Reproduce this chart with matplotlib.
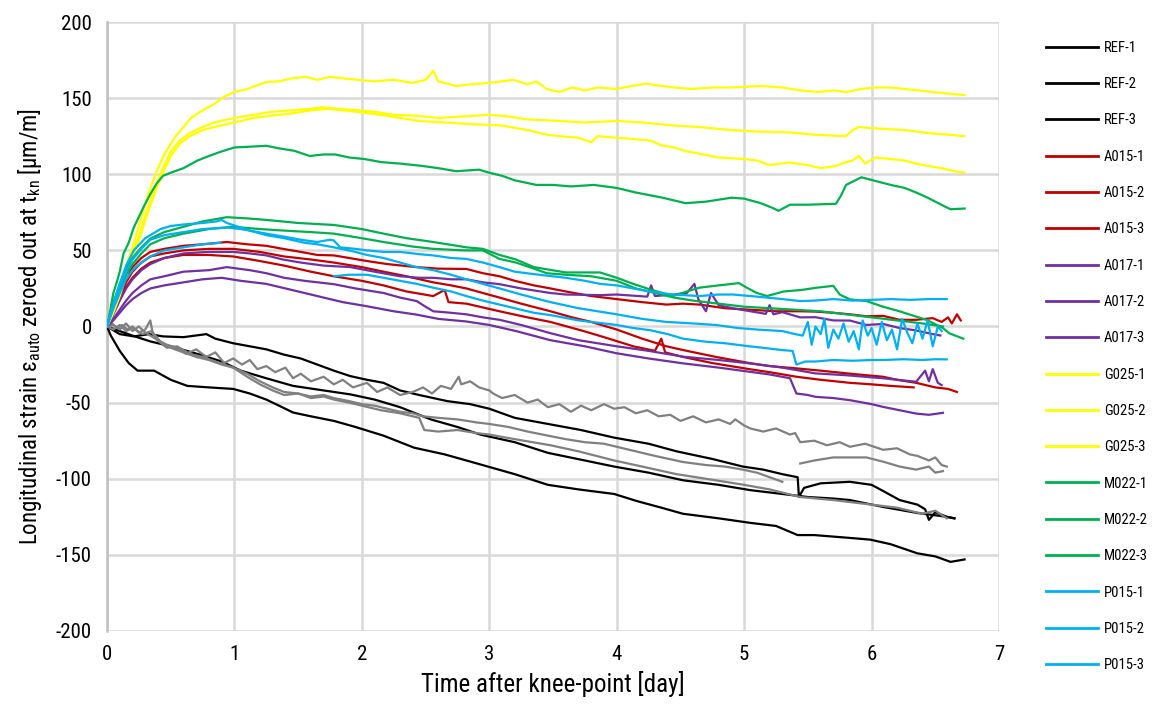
import matplotlib
matplotlib.use("Agg")
import matplotlib.pyplot as plt
from matplotlib.lines import Line2D
from matplotlib import font_manager

nan = float('nan')

# ---------------- data (time [day], strain [µm/m]) ----------------
REF_1 = [(0,0),(0.1,-5),(0.21,-6.5),(0.33,-5),(0.44,-6.5),(0.6,-7),(0.78,-5),(0.85,-8),(0.99,-11),(1.12,-13),
         (1.25,-15),(1.39,-18.5),(1.52,-21),(1.65,-25),(1.78,-29),(1.91,-32.6),(2.04,-35),(2.17,-37),(2.3,-42),
         (2.45,-45),(2.67,-49),(2.85,-51),(3.0,-54),(3.2,-60),(3.46,-64),(3.72,-68),(3.98,-73),(4.25,-77),
         (4.47,-82),(4.75,-87),(4.99,-92),(5.15,-94),(5.3,-97),(5.42,-99),(5.43,-112),(5.45,-109),(5.47,-106),
         (5.6,-103),(5.83,-102),(6.0,-104),(6.09,-108),(6.22,-114),(6.36,-117),(6.42,-120),(6.45,-127),
         (6.5,-122),(6.59,-125),(6.65,-126)]
REF_2 = [(0,0),(0.1,-3),(0.2,-6),(0.34,-9.8),(0.5,-13),(0.73,-18.5),(0.9,-23),(1.05,-29),(1.25,-34),(1.46,-39),
         (1.7,-42),(1.91,-44.6),(2.1,-48),(2.3,-53),(2.54,-61),(2.75,-66),(2.93,-71),(3.2,-76),(3.46,-83),
         (3.75,-88),(3.98,-92),(4.25,-96),(4.52,-101),(4.8,-104),(5.05,-107.5),(5.3,-110),(5.5,-112),(5.7,-113),
         (5.83,-114),(6.09,-118.5),(6.36,-122.5),(6.5,-124),(6.59,-125),(6.65,-126)]
REF_3 = [(0,0),(0.03,-6),(0.1,-16),(0.17,-24),(0.24,-29),(0.3,-29),(0.37,-29),(0.5,-35),(0.63,-39),(0.8,-40),
         (0.99,-41),(1.12,-44),(1.25,-48),(1.35,-52),(1.46,-56.5),(1.6,-59),(1.78,-62),(1.95,-66),(2.17,-71.7),
         (2.41,-79.6),(2.65,-84),(2.93,-90.6),(3.2,-97),(3.46,-104),(3.7,-107),(3.98,-110),(4.16,-114.7),
         (4.35,-119),(4.52,-123),(4.8,-126),(5.05,-129),(5.25,-131),(5.42,-137),(5.55,-137),(5.7,-138),
         (5.85,-139),(5.99,-140),(6.15,-143),(6.36,-149),(6.5,-151),(6.62,-154.6),(6.73,-153)]

GREY_1 = [(0,0),(0.04,2),(0.08,-1),(0.12,1),(0.16,-2),(0.2,0),(0.25,-4),(0.3,-2),(0.34,4),(0.36,-5),
          (0.42,-10),(0.47,-12),(0.55,-14),(0.62,-18),(0.7,-15),(0.78,-20),(0.85,-17),(0.92,-24),(0.99,-21),
          (1.06,-25),(1.12,-22),(1.18,-28),(1.25,-26),(1.32,-30),(1.4,-27),(1.46,-34),(1.52,-31),(1.6,-36),
          (1.7,-33),(1.78,-38),(1.85,-35),(1.93,-40),(2.04,-37),(2.12,-43),(2.2,-40),(2.3,-45),(2.4,-43),
          (2.48,-40),(2.55,-44),(2.62,-39),(2.7,-41),(2.76,-33),(2.78,-38),(2.85,-36),(2.92,-40),(3.0,-42),
          (3.03,-44),(3.1,-47),(3.2,-45),(3.3,-50),(3.38,-48),(3.46,-53),(3.55,-51),(3.64,-56),(3.72,-52),
          (3.8,-55),(3.9,-51),(3.98,-54),(4.06,-53),(4.15,-57),(4.24,-55),(4.33,-59),(4.42,-58),(4.5,-62),
          (4.6,-59),(4.7,-63),(4.8,-61),(4.89,-64),(4.93,-61),(5.0,-65),(5.05,-67),(5.15,-69),(5.25,-67),
          (5.36,-71),(5.4,-70),(5.44,-76),(5.55,-75),(5.65,-78),(5.75,-76),(5.83,-79),(5.95,-77),(6.09,-81),
          (6.2,-80),(6.3,-84),(6.36,-85),(6.45,-88),(6.5,-86),(6.55,-91),(6.59,-92)]
GREY_2 = [(0,0),(0.05,-2),(0.1,1),(0.15,-3),(0.2,-1),(0.28,-5),(0.35,-3),(0.42,-10),(0.5,-14),(0.6,-17),
          (0.7,-20),(0.8,-22),(0.9,-25),(0.99,-27),(1.1,-31),(1.2,-36),(1.3,-40),(1.39,-43),(1.5,-44),
          (1.6,-46),(1.7,-45),(1.78,-47),(1.9,-49),(2.0,-51),(2.1,-52),(2.2,-54),(2.3,-56),(2.4,-57),
          (2.48,-59),(2.6,-60),(2.75,-61),(2.9,-63),(3.0,-64),(3.15,-66),(3.3,-69),(3.48,-72),(3.6,-74),
          (3.75,-76),(3.9,-77),(4.0,-79),(4.15,-82),(4.3,-85),(4.52,-89),(4.7,-91),(4.85,-92),(4.99,-94),
          (5.1,-96),(5.2,-99),(5.3,-102),(5.35,nan),(5.44,-90),(5.55,-88),(5.7,-86),(5.85,-86),(5.96,-86),
          (6.1,-89),(6.22,-92),(6.35,-94),(6.45,-92),(6.5,-96),(6.56,-95)]
GREY_3 = [(0,0),(0.05,1),(0.1,-2),(0.15,2),(0.2,-3),(0.25,0),(0.3,-4),(0.38,-8),(0.47,-14),(0.55,-13),
          (0.65,-18),(0.75,-20),(0.85,-23),(0.99,-27),(1.1,-33),(1.2,-38),(1.3,-42),(1.39,-45),(1.5,-44),
          (1.6,-47),(1.7,-46),(1.78,-48),(1.9,-50),(2.0,-52),(2.15,-55),(2.3,-57),(2.45,-60),(2.49,-68),
          (2.6,-69),(2.75,-68),(2.9,-70),(3.0,-71),(3.2,-74),(3.48,-78),(3.7,-82),(3.98,-88),(4.2,-92),
          (4.47,-97),(4.7,-100),(5.0,-104),(5.2,-107),(5.44,-112),(5.7,-114),(6.0,-117),(6.2,-119),
          (6.4,-123),(6.5,-121),(6.59,-126)]

A015_1 = [(0,0),(0.05,12),(0.1,24),(0.15,33),(0.2,39),(0.27,45),(0.34,49),(0.45,51),(0.6,53),(0.75,54),
          (0.94,55.5),(1.1,54),(1.25,53),(1.38,51),(1.52,49),(1.65,47),(1.78,46.7),(1.9,45),(2.04,43),
          (2.2,41),(2.43,39),(2.6,38),(2.82,37.8),(2.95,35),(3.08,33),(3.2,30),(3.35,27),(3.48,25),(3.6,23),
          (3.8,20),(4.0,18),(4.2,16),(4.39,14.4),(4.52,15),(4.65,14.4),(4.85,12),(5.05,11),(5.25,10),
          (5.44,10),(5.56,9.8),(5.7,9),(5.83,8),(5.96,6.7),(6.09,7),(6.22,4.4),(6.35,4.4),(6.48,5.5),
          (6.55,3),(6.6,6),(6.63,2),(6.67,8),(6.7,4)]
A015_2 = [(0,0),(0.05,10),(0.1,20),(0.15,29),(0.2,36),(0.27,42),(0.34,46),(0.45,48),(0.6,50),(0.8,51),
          (0.99,51),(1.2,49),(1.39,46),(1.6,44),(1.78,42),(2.0,39),(2.17,36),(2.35,33),(2.56,29),(2.7,27),
          (2.82,25),(2.95,22),(3.08,19),(3.25,15),(3.48,10),(3.65,6),(3.8,3),(4.0,-2),(4.2,-8),(4.39,-13),
          (4.55,-16),(4.78,-20),(5.04,-24),(5.2,-26),(5.41,-27.5),(5.6,-29),(5.83,-31),(6.09,-33),(6.2,-35),
          (6.35,-37),(6.5,-40),(6.6,-41),(6.67,-43)]
A015_3 = [(0,0),(0.05,9),(0.1,18),(0.15,26),(0.2,32),(0.27,38),(0.34,42),(0.45,45),(0.6,47),(0.8,47),
          (0.99,46),(1.2,43),(1.39,40),(1.6,36),(1.78,33),(2.0,30),(2.17,27),(2.35,23),(2.56,20),(2.65,24),
          (2.68,16),(2.82,15),(3.08,10),(3.3,6),(3.48,3),(3.74,-3),(3.9,-7),(4.13,-13),(4.3,-16),(4.35,-8),
          (4.38,-17),(4.52,-20),(4.75,-24),(5.04,-28),(5.2,-30),(5.41,-33),(5.6,-35),(5.83,-37),(6.0,-38),
          (6.15,-39),(6.33,-40)]

A017_1 = [(0,0),(0.05,8),(0.1,17),(0.15,25),(0.2,31),(0.27,37),(0.34,41),(0.45,45),(0.6,48),(0.8,49),
          (0.99,49),(1.12,48),(1.25,46.7),(1.38,44),(1.52,42),(1.7,40),(1.91,39),(2.1,36),(2.3,33),(2.45,32),
          (2.56,32),(2.7,31),(2.82,31),(2.95,29),(3.08,27.8),(3.25,25),(3.48,22),(3.6,21),(3.87,20.6),
          (4.0,21),(4.24,19.6),(4.27,27),(4.3,20),(4.45,21),(4.55,22),(4.61,28),(4.64,18),(4.7,10),
          (4.74,22),(4.8,14),(4.91,12),(5.05,10),(5.17,8.3),(5.2,14),(5.23,8),(5.3,9.4),(5.44,6),(5.56,6.1),
          (5.7,4),(5.83,3.9),(5.96,1),(6.09,1.7),(6.22,-1),(6.35,-2.6),(6.48,-5),(6.54,-5.9)]
A017_2 = [(0,0),(0.05,5),(0.1,11),(0.15,17),(0.2,22),(0.27,27),(0.34,31),(0.45,33),(0.6,36),(0.8,37),
          (0.94,39),(1.12,37),(1.25,35),(1.39,32),(1.55,30),(1.78,27.8),(1.95,25),(2.17,22),(2.3,19),
          (2.43,16.7),(2.5,13),(2.56,10),(2.7,9),(2.82,8),(2.95,6),(3.08,4.4),(3.25,1),(3.48,-4.4),(3.7,-9),
          (4.0,-13),(4.25,-16),(4.52,-19.8),(4.8,-22),(5.04,-24.2),(5.3,-27),(5.56,-30.8),(5.8,-32),
          (6.09,-34),(6.35,-36.3),(6.42,-29),(6.45,-36),(6.48,-28),(6.52,-37),(6.55,-38.5)]
A017_3 = [(0,0),(0.05,4),(0.1,9),(0.15,14),(0.2,18),(0.27,22),(0.34,25),(0.45,27),(0.6,29),(0.75,31),
          (0.9,32),(1.05,30),(1.25,28),(1.45,24),(1.65,20),(1.85,16),(2.04,13.3),(2.25,10),(2.43,7.8),
          (2.6,5),(2.82,3.3),(3.0,1),(3.21,-3),(3.48,-9),(3.75,-13),(4.0,-17.6),(4.25,-21),(4.52,-24.2),
          (4.8,-27),(5.04,-29.7),(5.2,-31.5),(5.36,-34),(5.41,-44),(5.5,-45),(5.56,-46.2),(5.7,-47),
          (5.83,-48.4),(6.0,-51),(6.09,-52.8),(6.22,-55),(6.35,-57.2),(6.45,-58),(6.56,-56.7)]

G025_1 = [(0,0),(0.05,12),(0.1,25),(0.15,40),(0.2,52),(0.26,69),(0.32,86),(0.39,102),(0.45,113),(0.53,124),
          (0.6,131),(0.66,137),(0.75,142),(0.84,146),(0.92,151),(1.0,154),(1.1,156),(1.25,160.6),(1.35,161),
          (1.45,163),(1.56,164),(1.65,162),(1.75,164),(1.85,163),(1.97,162),(2.1,161),(2.25,162),(2.4,160),
          (2.5,162),(2.56,168),(2.6,161),(2.74,158),(2.85,159),(3.0,160),(3.19,162),(3.3,159),(3.37,161),
          (3.45,156),(3.55,154),(3.65,157),(3.75,155),(3.85,157),(4.0,156),(4.12,158),(4.23,159.5),
          (4.35,158),(4.45,157),(4.59,156),(4.75,157),(4.9,157),(5.13,158),(5.3,157),(5.45,155),(5.58,154),
          (5.7,155),(5.8,154),(5.92,156),(6.03,157),(6.15,157),(6.26,156),(6.38,155),(6.48,154),(6.6,153),
          (6.73,152)]
G025_2 = [(0,0),(0.05,10),(0.1,22),(0.15,35),(0.2,48),(0.26,62),(0.32,78),(0.39,94),(0.45,106),(0.5,115),
          (0.57,122),(0.65,127),(0.75,131),(0.84,134),(1.0,137),(1.15,139),(1.29,141),(1.45,142),(1.6,143),
          (1.69,144),(1.8,143),(1.97,142),(2.1,141),(2.25,139),(2.42,138.5),(2.6,137),(2.8,138),(3.0,139),
          (3.15,138),(3.3,136),(3.55,135),(3.75,134),(4.0,135),(4.2,134),(4.45,132),(4.65,131),(4.9,129),
          (5.1,128),(5.35,127.5),(5.55,126),(5.8,125),(5.85,129),(5.9,131),(6.05,130),(6.26,129),(6.45,127),
          (6.6,126),(6.73,125)]
G025_3 = [(0,0),(0.05,9),(0.1,20),(0.15,33),(0.2,45),(0.26,59),(0.32,75),(0.39,91),(0.45,103),(0.5,112),
          (0.57,120),(0.65,125),(0.75,129),(0.84,131),(1.0,134),(1.15,137),(1.29,138.5),(1.45,140),(1.6,142),
          (1.74,143),(1.85,142),(1.97,141),(2.15,139),(2.3,137),(2.45,135),(2.65,134),(2.85,133),(3.1,132),
          (3.3,129),(3.45,126),(3.55,125),(3.7,124),(3.8,121),(3.85,125),(4.0,124),(4.15,123),(4.27,122),
          (4.35,119),(4.45,117.6),(4.55,115),(4.68,113),(4.8,111),(5.0,110),(5.1,109),(5.2,106),(5.35,107.7),
          (5.5,106),(5.6,104),(5.72,105.5),(5.8,108),(5.85,109),(5.9,112),(5.95,107),(6.03,111),(6.15,110),
          (6.26,109),(6.35,107),(6.44,105.5),(6.55,104),(6.65,102),(6.73,101)]

M022_1 = [(0,0),(0.02,8),(0.05,22),(0.08,30),(0.1,36),(0.13,48),(0.17,55),(0.21,65),(0.25,72),(0.29,79),
          (0.34,87),(0.39,94),(0.44,99),(0.5,101),(0.6,104),(0.71,109),(0.8,112),(0.9,115),(1.0,117.6),
          (1.1,118),(1.25,118.7),(1.35,117),(1.47,115.4),(1.59,112),(1.7,113),(1.79,113),(1.9,111),(2.02,110),
          (2.15,108),(2.3,107),(2.47,105.5),(2.6,104),(2.74,102),(2.92,103),(3.0,101),(3.1,99),(3.2,96),
          (3.37,93),(3.5,93),(3.64,92),(3.82,93),(4.0,91),(4.15,88),(4.36,84.6),(4.54,81),(4.7,82),(4.9,84.6),
          (5.0,84),(5.13,81),(5.22,78),(5.27,76),(5.36,80),(5.5,80),(5.72,80.6),(5.76,86),(5.8,93),(5.92,98),
          (6.03,95.6),(6.15,93),(6.26,91),(6.35,88),(6.44,84.6),(6.57,79),(6.62,77),(6.73,77.5)]
M022_2 = [(0,0),(0.03,10),(0.06,18),(0.1,28),(0.15,38),(0.2,45),(0.27,52),(0.34,57.8),(0.45,62),(0.6,65.5),
          (0.75,69),(0.94,71.8),(1.1,71),(1.25,70),(1.5,68),(1.78,66.7),(2.0,64),(2.17,61),(2.35,58),
          (2.56,55.5),(2.82,52),(2.95,51),(3.08,47),(3.21,44),(3.35,39),(3.6,35.5),(3.87,35.5),(4.0,32),
          (4.13,28),(4.26,24.4),(4.44,20),(4.55,23),(4.65,25.5),(4.8,27),(4.96,28.5),(5.02,25.5),(5.1,22),
          (5.18,20),(5.31,23),(5.45,24),(5.57,25.5),(5.7,26.7),(5.75,21),(5.83,17.8),(5.96,16.7),(6.09,13),
          (6.22,10),(6.35,6.5),(6.43,4.4),(6.56,-1),(6.61,-4.5),(6.72,-8)]
M022_3 = [(0,0),(0.03,8),(0.06,15),(0.1,24),(0.15,34),(0.2,41),(0.27,48),(0.34,54),(0.45,58),(0.6,61),
          (0.8,64),(0.99,65.5),(1.2,64),(1.39,63),(1.6,62),(1.78,61),(2.0,58),(2.17,55.5),(2.4,52.5),
          (2.56,51),(2.8,50),(2.95,50),(3.08,44.4),(3.21,42),(3.35,38),(3.45,35),(3.6,34),(3.8,33),(4.0,30),
          (4.15,25),(4.3,22),(4.45,19),(4.6,17),(4.8,15),(5.0,13),(5.2,12),(5.4,11),(5.6,10),(5.8,8),(6.0,6),
          (6.2,4),(6.4,2),(6.56,0)]

P015_1 = [(0,0),(0.05,15),(0.1,28),(0.15,40),(0.21,50),(0.3,58),(0.42,64),(0.5,66),(0.6,67),(0.75,68),
          (0.86,69),(0.9,70),(0.94,68),(1.05,65),(1.12,63),(1.25,61),(1.39,59),(1.52,57),(1.65,55.5),
          (1.75,57),(1.78,56.5),(1.83,52),(1.95,51),(2.04,50),(2.17,49),(2.3,49),(2.45,47.5),(2.56,46.7),
          (2.7,45),(2.82,44.4),(2.95,42),(3.08,39),(3.2,36),(3.35,34.4),(3.6,32),(3.75,30),(3.87,28),(4.0,27),
          (4.13,25),(4.26,23),(4.44,21),(4.65,20),(4.8,21),(4.91,21),(5.05,20),(5.18,19),(5.3,18),(5.44,16.7),
          (5.55,17),(5.7,18),(5.85,17),(6.0,17.5),(6.15,18),(6.3,17.5),(6.45,18),(6.59,18)]
P015_2 = [(0,0),(0.05,14),(0.1,26),(0.15,36),(0.2,44),(0.27,51),(0.34,57),(0.45,60),(0.6,62),(0.75,64),
          (0.94,65),(1.05,64),(1.12,63),(1.25,60),(1.39,58),(1.55,55),(1.65,54),(1.78,52),(1.9,50),(2.04,47),
          (2.17,45),(2.3,42),(2.43,39),(2.56,37),(2.7,34),(2.82,31),(2.95,28),(3.08,25),(3.25,21),(3.48,16),
          (3.7,12),(4.0,8),(4.2,5),(4.39,3),(4.6,2),(4.78,1),(4.95,-1),(5.1,-2),(5.3,-3),(5.4,-5),(5.46,-6),
          (5.5,3),(5.53,-12),(5.56,0),(5.6,-5),(5.63,5),(5.66,-14),(5.7,-2),(5.74,-8),(5.78,2),(5.82,-10),
          (5.86,-3),(5.9,-15),(5.93,4),(5.97,-6),(6.0,-1),(6.04,-12),(6.08,3),(6.12,-9),(6.16,-2),(6.2,-15),
          (6.24,5),(6.28,-4),(6.32,-11),(6.36,2),(6.4,-8),(6.44,4),(6.48,-13),(6.52,0),(6.55,-3)]
P015_3 = [(0,0),(0.05,12),(0.1,22),(0.15,31),(0.2,37),(0.27,42),(0.34,46),(0.45,50),(0.6,52),(0.75,54),
          (0.89,55),(0.9,nan),(1.78,33),(1.9,34),(2.04,34),(2.17,32),(2.3,30),(2.43,28),(2.56,25.5),(2.7,23),
          (2.82,20),(2.95,17),(3.08,14.4),(3.2,12),(3.35,9),(3.48,7.5),(3.7,4),(4.0,1),(4.13,-1),(4.26,-2.4),
          (4.4,-5),(4.52,-8),(4.7,-10),(4.85,-11),(5.04,-13),(5.15,-14),(5.3,-15.5),(5.38,-16),(5.41,-25),
          (5.48,-23),(5.56,-23),(5.7,-22),(5.85,-22.5),(6.0,-22),(6.09,-22),(6.25,-21.5),(6.4,-22),(6.5,-21.5),
          (6.59,-21.6)]

LABELS = ["REF-1", "REF-2", "REF-3", "A015-1", "A015-2", "A015-3", "A017-1", "A017-2", "A017-3",
          "G025-1", "G025-2", "G025-3", "M022-1", "M022-2", "M022-3", "P015-1", "P015-2", "P015-3"]
SERIES = [REF_1, REF_2, REF_3, A015_1, A015_2, A015_3, A017_1, A017_2, A017_3,
          G025_1, G025_2, G025_3, M022_1, M022_2, M022_3, P015_1, P015_2, P015_3]
GREYS = [GREY_1, GREY_2, GREY_3]
X_TICKS = [0, 1, 2, 3, 4, 5, 6, 7]
Y_TICKS = [-200, -150, -100, -50, 0, 50, 100, 150, 200]

# ---------------- styling ----------------
GROUP_COLORS = {"REF": "#000000", "A015": "#c00000", "A017": "#7030a0", "G025": "#ffff00",
                "M022": "#00b050", "P015": "#00b0f0"}
GREY_COLOR = "#808080"

installed = {f.name for f in font_manager.fontManager.ttflist}
narrow = [n for n in ["Liberation Sans Narrow", "DejaVu Sans Condensed", "Roboto Condensed",
                      "Open Sans Condensed", "Roboto"] if n in installed]
FONT = narrow[:1] + ["DejaVu Sans"]
plt.rcParams["font.family"] = FONT
if not narrow:
    plt.rcParams["font.stretch"] = "condensed"
plt.rcParams["axes.unicode_minus"] = False
plt.rcParams["mathtext.fontset"] = "custom"
plt.rcParams["mathtext.rm"] = FONT[0]
plt.rcParams["mathtext.it"] = FONT[0]

fig = plt.figure(figsize=(11.58, 7.13), dpi=100)
ax = fig.add_axes([107 / 1158, 1 - 631 / 713, (999 - 107) / 1158, (631 - 22) / 713])

LW = 1.6
for data in SERIES[:3]:
    t, v = zip(*data)
    ax.plot(t, v, color=GROUP_COLORS["REF"], lw=LW, zorder=3)
for data in GREYS:
    t, v = zip(*data)
    ax.plot(t, v, color=GREY_COLOR, lw=LW, zorder=3)
for lab, data in zip(LABELS[3:], SERIES[3:]):
    t, v = zip(*data)
    ax.plot(t, v, color=GROUP_COLORS[lab.split("-")[0]], lw=LW, zorder=3)
handles = [Line2D([], [], color=GROUP_COLORS[lab.split("-")[0]], lw=2.0, label=lab) for lab in LABELS]

ax.set_xlim(0, 7)
ax.set_ylim(-200, 200)
ax.set_xticks(X_TICKS)
ax.set_yticks(Y_TICKS)
ax.set_xticklabels([str(x) for x in X_TICKS])
ax.set_yticklabels([str(y) for y in Y_TICKS])
ax.grid(True, color="#d9d9d9", lw=1.8, zorder=0)
ax.set_axisbelow(True)
for side in ["top", "right", "bottom"]:
    ax.spines[side].set_visible(False)
ax.spines["left"].set_color("#bfbfbf")
ax.spines["left"].set_linewidth(1.8)
ax.tick_params(axis="y", length=0, labelsize=15, colors="#000000", pad=11)
ax.tick_params(axis="x", length=0, labelsize=15, colors="#000000", pad=10)

ax.set_xlabel("Time after knee-point [day]", fontsize=18, labelpad=5)
ax.set_ylabel("Longitudinal strain ε$_{\\mathrm{auto}}$ zeroed out at t$_{\\mathrm{kn}}$ [µm/m]",
              fontsize=16.5, labelpad=8)

fig.legend(handles=handles, loc="upper left", bbox_to_anchor=(1040 / 1158, 1 - 35 / 713),
           frameon=False, fontsize=10.5, handlelength=3.6, handletextpad=0.4,
           labelspacing=1.53, borderaxespad=0)

fig.savefig("out.png", dpi=100)
